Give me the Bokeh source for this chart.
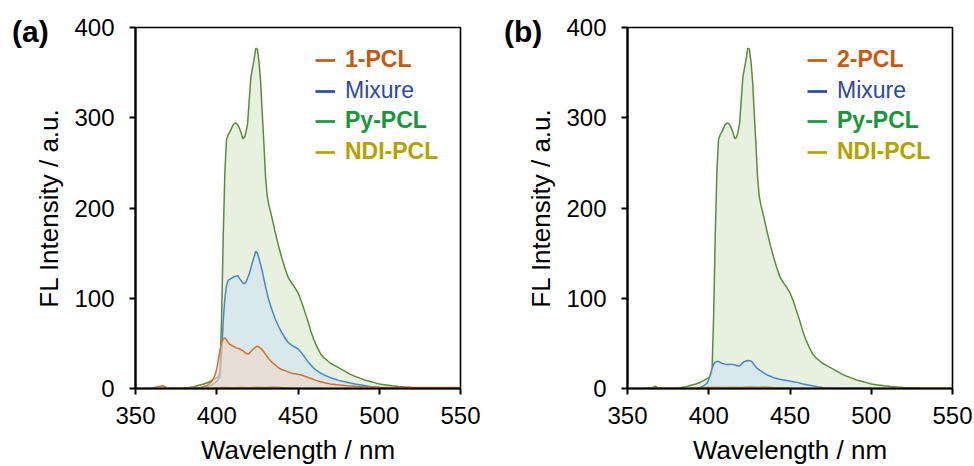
from bokeh.plotting import figure
from bokeh.layouts import row
from bokeh.models import Range1d, FixedTicker, Legend, LegendItem, Div
from bokeh.embed import file_html
from bokeh.resources import INLINE

# ---------------- data ----------------
wl_py = [360, 365, 367, 369, 375, 380, 383, 386, 389, 392, 395, 397, 399, 400, 401, 402,
         403, 404, 405, 406, 407, 408, 409, 410, 411, 412, 413, 414, 415, 416, 417, 418,
         419, 420, 421, 422, 423, 424, 425, 426, 427, 428, 429, 430, 431, 432, 434, 436,
         438, 440, 442, 444, 446, 448, 450, 452, 454, 456, 458, 460, 462, 464, 466, 468,
         470, 473, 476, 479, 482, 485, 488, 491, 494, 497, 500, 504, 508, 512, 516, 520,
         525, 530, 535, 550]
py_pcl = [0, 0.5, 2.5, 0.5, 0, 0.3, 1, 2, 3.5, 5, 7, 9, 11, 12, 13, 18,
          80, 170, 240, 276, 281, 284, 288, 292, 294, 294, 292, 288, 283, 277, 278, 284,
          294, 320, 345, 355, 365, 377, 376, 362, 340, 305, 272, 235, 214, 204, 189, 173,
          158, 145, 133, 123, 117, 112, 106, 97, 86, 75, 63, 53, 45, 38, 34, 31,
          28, 25, 22, 19, 16, 13.5, 11.5, 9.5, 8, 6.5, 5, 4, 3, 2.2, 1.6, 1.2,
          0.8, 0.3, 0, 0]

wl_mix_a = [390, 395, 398, 400, 401, 402, 403, 404, 405, 406, 407, 409, 411, 413, 414,
            416, 417, 418, 420, 422, 424, 425, 426, 428, 430, 432, 434, 436, 438, 440,
            442, 444, 446, 448, 450, 452, 454, 456, 458, 460, 463, 466, 470, 475, 480,
            485, 490, 495, 500, 505, 510]
mix_a = [0, 2, 5, 8, 10, 14, 40, 75, 100, 114, 120, 122, 124, 125, 122,
         117, 116, 118, 127, 140, 152, 150, 144, 130, 113, 98, 87, 77, 69, 62,
         56, 51, 48, 46, 44, 40, 35, 30, 26, 22, 18, 15, 12, 9, 7,
         5, 3.5, 2, 1, 0.3, 0]

wl_1pcl = [360, 365, 367, 369, 372, 380, 390, 394, 397, 399, 400, 401, 402, 403, 404,
           405, 406, 407, 408, 410, 412, 414, 416, 418, 419, 420, 422, 424, 425, 426,
           428, 430, 432, 434, 436, 438, 440, 443, 446, 449, 452, 455, 458, 461, 464,
           467, 470, 475, 480, 490, 500, 510, 520, 550]
pcl_1 = [0.3, 2.5, 3, 1, 0.3, 0.3, 1, 3, 8, 15, 22, 32, 43, 51, 55,
         56, 54, 51, 49, 47, 45, 44, 42, 39, 38, 39, 43, 46, 47, 46,
         43, 38, 33, 29, 26, 23, 21, 19, 17, 16, 15, 13, 11, 9, 7.5,
         6, 5, 4, 3, 2, 1.5, 1.2, 1, 1]

wl_mix_b = [390, 394, 397, 399, 400, 401, 402, 403, 404, 405, 406, 407, 408, 410, 412,
            414, 416, 418, 419, 420, 422, 424, 426, 427, 428, 430, 432, 434, 436, 438,
            440, 443, 446, 449, 452, 455, 458, 461, 464, 467, 470, 475, 480, 495, 500]
mix_b = [0, 0.5, 3, 6, 10, 16, 22, 27, 29, 30, 30, 29, 28, 27, 26.5,
         27, 26, 25, 25, 27, 30, 31, 30.5, 29, 26, 22, 19.5, 17, 15, 13.5,
         12, 10.5, 9.5, 8.5, 7.5, 6.5, 5, 4, 3, 2, 1.2, 0.7, 0.5, 0.3, 0]

wl_ndi = [360, 395, 400, 405, 410, 415, 420, 425, 430, 435, 440, 445, 450, 460, 550]
ndi_pcl = [0, 0, 0.8, 1, 0.8, 1, 0.7, 1.5, 1.2, 1.8, 1, 0.5, 0.3, 0, 0]

wl_2pcl = [360, 390, 395, 400, 410, 420, 425, 430, 440, 450, 460, 550]
pcl_2 = [0, 0, 0.5, 1, 1.2, 1, 1.5, 1.2, 0.8, 0.3, 0, 0]

x_ticks = [350, 400, 450, 500, 550]
y_ticks = [0, 100, 200, 300, 400]

# ---------------- styles ----------------
FONT = "Liberation Sans"
C_OR_LINE, C_OR_FILL, C_OR_TXT = "#d6702c", "#f1d9c8", "#c55a11"
C_BL_LINE, C_BL_FILL, C_BL_TXT = "#4a86c8", "#d3e5ef", "#2a4a9e"
C_GR_LINE, C_GR_FILL, C_GR_TXT = "#5b8c3a", "#e6eedc", "#17973a"
C_GD_LINE, C_GD_TXT = "#c8a800", "#b8a000"


def make_panel(first_label, first_wl, first_vals, mix_wl, mix_vals,
               left_border, frame_w, right_border):
    p = figure(frame_width=frame_w, frame_height=361,
               min_border_left=left_border, min_border_right=right_border,
               min_border_top=27, min_border_bottom=78,
               x_range=Range1d(350, 550), y_range=Range1d(0, 400),
               output_backend="svg", toolbar_location=None)
    p.background_fill_color = "white"
    p.border_fill_color = "white"
    p.grid.visible = False
    p.outline_line_color = "black"
    p.outline_line_width = 1.6

    # Py-PCL
    p.varea(x=wl_py, y1=0, y2=py_pcl, fill_color=C_GR_FILL, fill_alpha=0.9)
    p.line(wl_py, py_pcl, line_color=C_GR_LINE, line_width=1.5)
    # Mixure
    p.varea(x=mix_wl, y1=0, y2=mix_vals, fill_color=C_BL_FILL, fill_alpha=0.75)
    p.line(mix_wl, mix_vals, line_color=C_BL_LINE, line_width=1.5)
    # 1-PCL / 2-PCL
    p.varea(x=first_wl, y1=0, y2=first_vals, fill_color=C_OR_FILL, fill_alpha=0.6)
    p.line(first_wl, first_vals, line_color=C_OR_LINE, line_width=1.5)
    # NDI-PCL
    p.line(wl_ndi, ndi_pcl, line_color=C_GD_LINE, line_width=1.5)

    for ax in (p.xaxis[0], p.yaxis[0]):
        ax.axis_line_width = 2.2
        ax.axis_line_color = "black"
        ax.major_tick_line_color = "black"
        ax.major_tick_line_width = 2
        ax.major_tick_in = 0
        ax.major_tick_out = 6
        ax.minor_tick_line_color = None
        ax.major_label_text_font = FONT
        ax.major_label_text_font_size = "24px"
        ax.major_label_text_color = "black"
        ax.axis_label_text_font = FONT
        ax.axis_label_text_font_size = "26px"
        ax.axis_label_text_font_style = "normal"
        ax.axis_label_text_color = "black"
    p.xaxis.ticker = FixedTicker(ticks=x_ticks)
    p.yaxis.ticker = FixedTicker(ticks=y_ticks)
    p.xaxis.axis_label = "Wavelength / nm"
    p.yaxis.axis_label = "FL Intensity / a.u."
    p.xaxis.major_label_standoff = 12
    p.xaxis.axis_label_standoff = 8
    p.yaxis.major_label_standoff = 15
    p.yaxis.axis_label_standoff = 7

    # legend (one legend per entry so every label gets its own colour)
    entries = [(first_label, C_OR_TXT, "bold"), ("Mixure", C_BL_TXT, "normal"),
               ("Py-PCL", C_GR_TXT, "bold"), ("NDI-PCL", C_GD_TXT, "bold")]
    for i, (lab, col, style) in enumerate(entries):
        dummy = p.line([300, 310], [-50, -50], line_color=col, line_width=2.7)
        leg = Legend(items=[LegendItem(label=lab, renderers=[dummy])],
                     location=(180, int(361 - 46 - 30.5 * i)),
                     label_text_color=col, label_text_font=FONT,
                     label_text_font_size="23px", label_text_font_style=style,
                     glyph_width=20, glyph_height=20, label_standoff=10,
                     label_height=20, padding=0, margin=0, spacing=0,
                     background_fill_alpha=0, border_line_alpha=0)
        p.add_layout(leg)
    return p


def tag_div(tag, left):
    return Div(text=tag, styles={"position": "absolute", "left": f"{left}px",
                                 "top": "15px", "font-family": FONT,
                                 "font-size": "30px", "font-weight": "bold",
                                 "color": "black", "margin": "0", "padding": "0",
                                 "line-height": "1.15"})


p1 = make_panel("1-PCL", wl_1pcl, pcl_1, wl_mix_a, mix_a, 135, 325, 27)
p2 = make_panel("2-PCL", wl_2pcl, pcl_2, wl_mix_b, mix_b, 140, 325, 22)

layout = row(p1, p2, tag_div("(a)", 12), tag_div("(b)", 504))
open("out.html", "w").write(file_html(layout, INLINE))
